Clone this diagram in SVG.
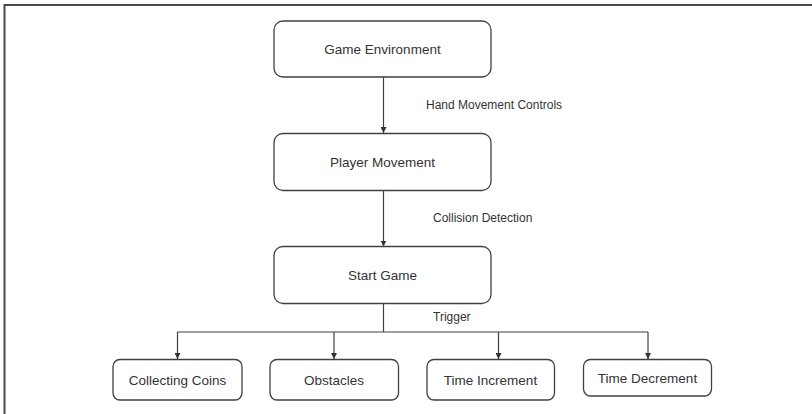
<svg xmlns="http://www.w3.org/2000/svg" width="812" height="414" viewBox="0 0 812 414">
<style>
.box{fill:#fff;stroke:#404040;stroke-width:1.3}
.nt{font-family:"Liberation Sans",Arial,sans-serif;font-size:13.5px;fill:#333;text-anchor:middle;dominant-baseline:central}
.lt{font-family:"Liberation Sans",Arial,sans-serif;font-size:12px;fill:#333;dominant-baseline:central}
.ln{fill:none;stroke:#404040;stroke-width:1.2}
</style>
<defs>
<marker id="ah" viewBox="0 0 8 8" refX="8" refY="4" markerWidth="6" markerHeight="6" markerUnits="userSpaceOnUse" orient="auto">
<path d="M0,0 L8,4 L0,8 Z" fill="#333"/>
</marker>
</defs>
<rect width="812" height="414" fill="#fff"/>
<g id="frame">
<path d="M4.5,414 L4.5,5 L812,5" fill="none" stroke="#4a4a4a" stroke-width="2"/>
</g>
<g id="connectors">
<line class="ln" x1="383.5" y1="77" x2="383.5" y2="133" marker-end="url(#ah)"/>
<line class="ln" x1="383.5" y1="191" x2="383.5" y2="246.5" marker-end="url(#ah)"/>
<line class="ln" x1="383.5" y1="303.5" x2="383.5" y2="332"/>
<line class="ln" x1="177.5" y1="332" x2="648" y2="332"/>
<line class="ln" x1="177.5" y1="332" x2="177.5" y2="359" marker-end="url(#ah)"/>
<line class="ln" x1="334" y1="332" x2="334" y2="359" marker-end="url(#ah)"/>
<line class="ln" x1="498.5" y1="332" x2="498.5" y2="359" marker-end="url(#ah)"/>
<line class="ln" x1="648" y1="332" x2="648" y2="359" marker-end="url(#ah)"/>
<text class="lt" x="426" y="105">Hand Movement Controls</text>
<text class="lt" x="433" y="217.5">Collision Detection</text>
<text class="lt" x="433" y="316.5">Trigger</text>
</g>
<g id="game-environment">
<rect class="box" x="274" y="21" width="217" height="56" rx="9"/>
<text class="nt" x="382.5" y="49">Game Environment</text>
</g>
<g id="player-movement">
<rect class="box" x="274" y="133.5" width="217" height="57" rx="9"/>
<text class="nt" x="382.5" y="162.5">Player Movement</text>
</g>
<g id="start-game">
<rect class="box" x="274" y="246.5" width="217" height="57" rx="9"/>
<text class="nt" x="382.5" y="275">Start Game</text>
</g>
<g id="collecting-coins">
<rect class="box" x="113" y="359.5" width="129" height="40.5" rx="7"/>
<text class="nt" x="177.5" y="380">Collecting Coins</text>
</g>
<g id="obstacles">
<rect class="box" x="270" y="359.5" width="128.5" height="40.5" rx="7"/>
<text class="nt" x="334" y="380">Obstacles</text>
</g>
<g id="time-increment">
<rect class="box" x="427" y="359.5" width="127.5" height="40.5" rx="7"/>
<text class="nt" x="490.5" y="380">Time Increment</text>
</g>
<g id="time-decrement">
<rect class="box" x="583.5" y="359.5" width="128" height="36.5" rx="7"/>
<text class="nt" x="647.5" y="378">Time Decrement</text>
</g>
</svg>
